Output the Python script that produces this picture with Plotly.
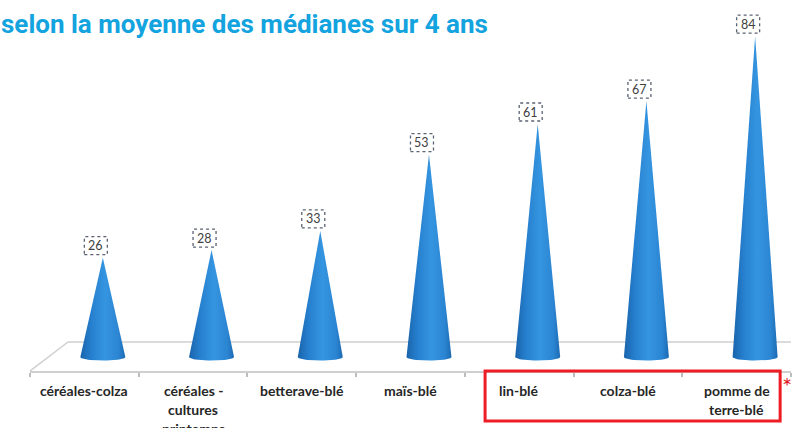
import numpy as np
import plotly.graph_objects as go

# ---- data ----
categories = ["céréales-colza", "céréales -<br>cultures<br>printemps", "betterave-blé",
              "maïs-blé", "lin-blé", "colza-blé", "pomme de<br>terre-blé"]
values = [26, 28, 33, 53, 61, 67, 84]
highlighted = ["lin-blé", "colza-blé", "pomme de<br>terre-blé"]
title_text = "selon la moyenne des médianes sur 4 ans"

# ---- geometry (styling) ----
W, H = 792, 428
ML, MR, MT, MB = 30, 1, 0, 57
n = len(categories)
PW = W - ML - MR
PH = H - MT - MB
px_per_cat = PW / n
YMIN, YMAX = -3.66, 93.46
px_per_val = PH / (YMAX - YMIN)
depth_dx = 0.17          # cone offset into depth (category units)
hw = 22.5 / px_per_cat   # cone half width
eb = 3.5 / px_per_val    # ellipse vertical semi-axis
back_y = 15 / px_per_val

fig = go.Figure()

grad = [[0.0, "#1a64ab"], [0.25, "#2680cf"], [0.55, "#3595e0"],
        [0.85, "#2b85d2"], [1.0, "#1d6ab2"]]

for i, v in enumerate(values):
    cx = i + depth_dx
    t = np.linspace(0, np.pi, 30)
    xs = [cx - hw, cx, cx + hw] + list(cx + hw * np.cos(t))
    ys = [0, v, 0] + list(-eb * np.sin(t))
    fig.add_trace(go.Scatter(
        x=xs, y=ys, mode="lines", fill="toself",
        line=dict(width=0, color="#1f6fb8"),
        fillgradient=dict(type="horizontal", colorscale=grad),
        hoverinfo="skip", showlegend=False))

shapes = []
# floor back line and left edge
shapes.append(dict(type="line", xref="x", yref="y", x0=-0.5 + 38 / px_per_cat, x1=n - 0.5,
                   y0=back_y, y1=back_y, line=dict(color="#cfcfcf", width=1.5), layer="below"))
shapes.append(dict(type="line", xref="x", yref="y", x0=-0.5, x1=-0.5 + 38 / px_per_cat,
                   y0=YMIN, y1=back_y, line=dict(color="#cfcfcf", width=1.5), layer="below"))

annotations = []
for i, v in enumerate(values):
    cx = i + depth_dx
    shapes.append(dict(type="rect", xref="x", yref="y", xsizemode="pixel", ysizemode="pixel",
                       xanchor=cx, yanchor=v, x0=-18.5, x1=4.5, y0=3, y1=21,
                       line=dict(color="#5b6272", width=1.3, dash="dot"),
                       fillcolor="white"))
    annotations.append(dict(x=cx, y=v, xref="x", yref="y", text=str(v), showarrow=False,
                            xshift=-7, yshift=12, font=dict(family="Lato", size=12.5, color="#404040")))

for i, c in enumerate(categories):
    for j, line in enumerate(c.split("<br>")):
        annotations.append(dict(x=i, y=0, xref="x", yref="paper", text=line, showarrow=False,
                                xanchor="center", yanchor="middle", yshift=-(19 + 19 * j),
                                font=dict(family="Lato", size=14, color="#262626", weight="bold")))

# highlight rectangle around highlighted categories
idx = [categories.index(h) for h in highlighted]
shapes.append(dict(type="rect", xref="x", yref="paper",
                   x0=min(idx) - 0.314, x1=max(idx) + 0.40,
                   y0=-50 / PH, y1=0,
                   line=dict(color="#ee1c25", width=3)))
annotations.append(dict(x=(787 - ML) / PW, y=-14 / PH, xref="paper", yref="paper", text="*",
                        showarrow=False, xanchor="center", yanchor="middle",
                        font=dict(family="Lato", size=24, color="#e0202a")))

annotations.append(dict(x=-1.5 / PW - ML / PW, y=(PH - 24) / PH,
                        xref="paper", yref="paper", text=title_text, showarrow=False,
                        xanchor="left", yanchor="middle",
                        font=dict(family="Roboto", size=26, color="#13a3de", weight="bold")))

fig.update_layout(
    width=W, height=H, margin=dict(l=ML, r=MR, t=MT, b=MB),
    paper_bgcolor="white", plot_bgcolor="white",
    xaxis=dict(range=[-0.5, n - 0.5], showgrid=False, zeroline=False,
               showline=True, linecolor="#cfcfcf", linewidth=1.5,
               tickvals=list(range(n)), showticklabels=False, ticks="",
               minor=dict(tickvals=[k - 0.5 for k in range(n + 1)], ticks="outside",
                          ticklen=4, tickcolor="#bdbdbd", tickwidth=1.5),
               fixedrange=True),
    yaxis=dict(range=[YMIN, YMAX], visible=False, fixedrange=True),
    shapes=shapes, annotations=annotations, showlegend=False,
)

fig.write_html("out.html", config={"displayModeBar": False},
               post_script="document.body.style.margin='0';")
